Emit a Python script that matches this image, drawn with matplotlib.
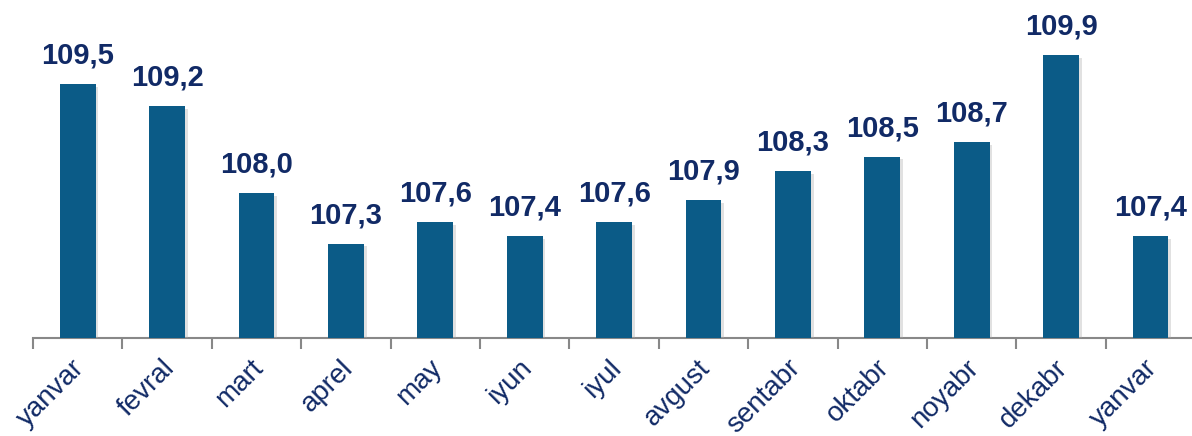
import matplotlib.pyplot as plt
import matplotlib.patheffects as pe
from matplotlib.transforms import ScaledTranslation

months = ["yanvar", "fevral", "mart", "aprel", "may", "iyun", "iyul",
          "avgust", "sentabr", "oktabr", "noyabr", "dekabr", "yanvar"]
values = [109.5, 109.2, 108.0, 107.3, 107.6, 107.4, 107.6,
          107.9, 108.3, 108.5, 108.7, 109.9, 107.4]

plt.rcParams['font.family'] = ['Liberation Sans', 'DejaVu Sans']

bar_color = "#0b5b87"
text_color = "#112a66"

fig = plt.figure(figsize=(11.92, 4.36), dpi=100)
ax = fig.add_axes([0.0277, 0.2248, 0.975, 0.7752])

x = range(len(values))
bars = ax.bar(x, values, width=0.4, color=bar_color, zorder=3)
for b in bars:
    b.set_path_effects([pe.SimplePatchShadow(offset=(2, -2), shadow_rgbFace="#aaaaaa", alpha=0.35), pe.Normal()])

for i, v in enumerate(values):
    ax.text(i, v + 0.2, f"{v:.1f}".replace(".", ","), ha="center", va="bottom",
            fontsize=21, fontweight="bold", color=text_color)

ax.set_ylim(106.0, 110.66)
ax.set_xlim(-0.5, len(values) - 0.5)

for s in ["top", "right", "left"]:
    ax.spines[s].set_visible(False)
ax.spines["bottom"].set_color("#888888")
ax.spines["bottom"].set_linewidth(1.5)
ax.set_yticks([])

ax.set_xticks([i - 0.5 for i in range(len(values))], minor=False)
ax.set_xticklabels([])
ax.tick_params(axis="x", which="major", length=8, width=1.5, color="#888888")
ax.set_xticks(list(x), minor=True)
ax.set_xticklabels(months, minor=True, rotation=45, ha="right", rotation_mode="anchor",
                   fontsize=20, color=text_color)
ax.tick_params(axis="x", which="minor", length=0, pad=12)
shift = ScaledTranslation(-6 / 100, 0, fig.dpi_scale_trans)
for lbl in ax.get_xticklabels(minor=True):
    lbl.set_transform(lbl.get_transform() + shift)

fig.savefig("out.png", dpi=100)
